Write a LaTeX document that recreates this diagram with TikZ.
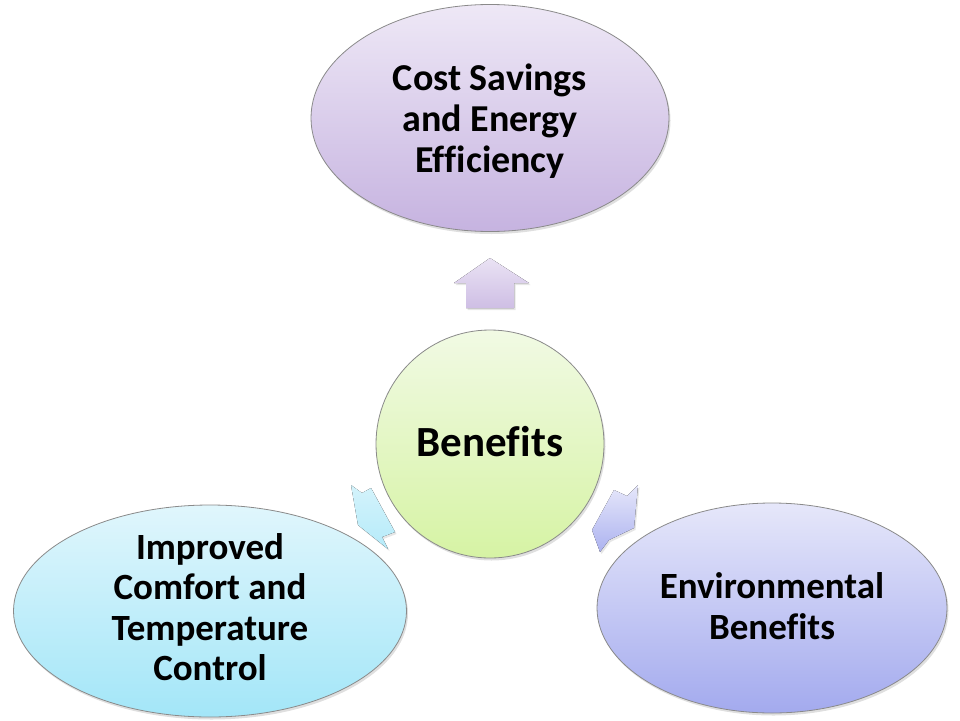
\documentclass[tikz,border=0pt]{standalone}
\usepackage{fontspec}
\setmainfont{Carlito}[Ligatures=NoCommon]
\usetikzlibrary{shapes.geometric,shadows}
\definecolor{purT}{HTML}{EEE8F6}
\definecolor{purB}{HTML}{C6B3E0}
\definecolor{grnT}{HTML}{F1FAE4}
\definecolor{grnB}{HTML}{D6F3A4}
\definecolor{cyaT}{HTML}{E0F6FC}
\definecolor{cyaB}{HTML}{A3E6F8}
\definecolor{bluT}{HTML}{E6E7FA}
\definecolor{bluB}{HTML}{A3AAEE}
\definecolor{edgegray}{HTML}{8A8A8A}
\tikzset{
  blob/.style={ellipse, draw=edgegray, line width=0.8pt, inner sep=0pt,
    drop shadow={opacity=0.25, shadow xshift=1.5pt, shadow yshift=-2.5pt}},
  lbl/.style={align=center, font=\bfseries\fontsize{37}{40.5}\selectfont, text=black},
  arrowshape/.style={draw=none, drop shadow={opacity=0.2, shadow xshift=1.5pt, shadow yshift=-2pt}}
}
\begin{document}
\begin{tikzpicture}[x=1pt,y=-1pt]
\useasboundingbox (0,0) rectangle (960,720);
% nodes
\node[blob, top color=purT, bottom color=purB, minimum width=358pt, minimum height=227pt] (top) at (490,118) {};
\node[blob, top color=grnT, bottom color=grnB, minimum width=228pt, minimum height=228pt] (ctr) at (490,444) {};
\node[blob, top color=cyaT, bottom color=cyaB, minimum width=393pt, minimum height=212pt] (left) at (210,611) {};
\node[blob, top color=bluT, bottom color=bluB, minimum width=350pt, minimum height=210pt] (right) at (772,608) {};
% texts
\node[lbl, font=\bfseries\fontsize{38}{41}\selectfont] (toptext) at ([yshift=-3pt]top.center) {Cost Savings\\and Energy\\Efficiency};
\node[lbl, font=\bfseries\fontsize{43}{46}\selectfont] (ctrtext) at ([yshift=2pt]ctr.center) {Benefits};
\node[lbl] (lefttext) at ([yshift=4pt]left.center) {Improved\\Comfort and\\Temperature\\Control};
\node[lbl] (righttext) at ([yshift=2pt]right.center) {Environmental\\Benefits};
% arrows
\fill[arrowshape, top color=purT!90!purB, bottom color=purB!85!white]
  (490,258) -- (529,283) -- (514,283) -- (514,308) -- (466,308) -- (466,283) -- (454,283) -- cycle;
\fill[arrowshape, top color=cyaT!80!cyaB, bottom color=cyaB!80!white]
  (351,485) -- (362,493) -- (371,488) -- (395,532) -- (382,537) -- (388,549) -- (358,525) -- cycle;
\fill[arrowshape, top color=bluT, bottom color=bluB!90!white]
  (614,490) -- (627,496) -- (638,485) -- (634,528) -- (609,540) -- (600,552) -- (592,530) -- cycle;
\end{tikzpicture}
\end{document}
